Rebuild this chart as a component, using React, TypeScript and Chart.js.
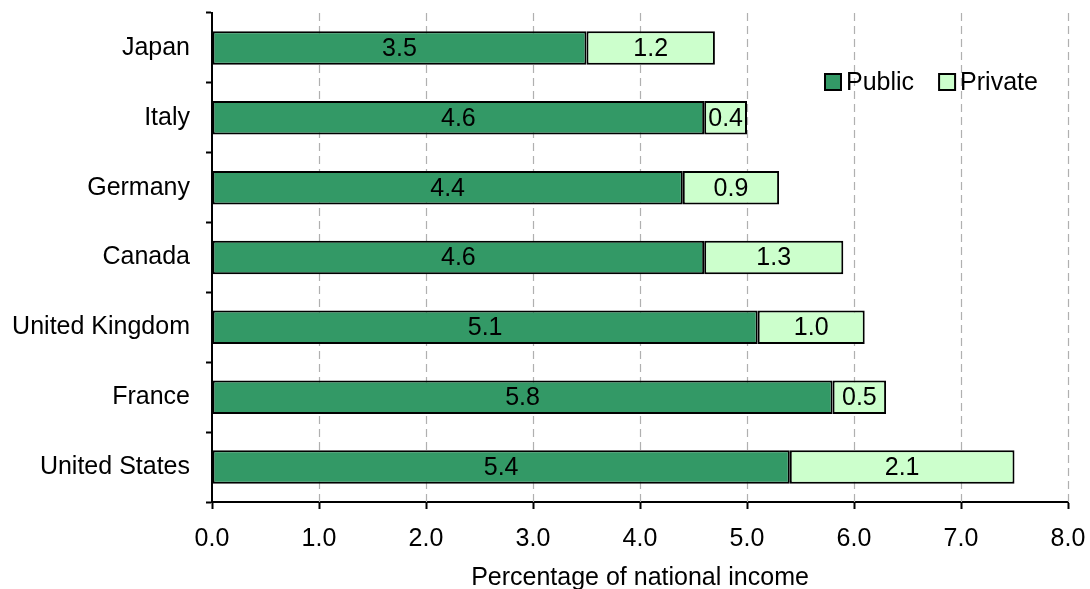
import React, { useEffect, useRef } from "react";
import { Chart, registerables } from "chart.js";

Chart.register(...registerables);

// Spending on education by source, % of national income
const CATEGORIES = ["Japan", "Italy", "Germany", "Canada", "United Kingdom", "France", "United States"];
const PUBLIC = [3.5, 4.6, 4.4, 4.6, 5.1, 5.8, 5.4];
const PRIVATE = [1.2, 0.4, 0.9, 1.3, 1.0, 0.5, 2.1];
const X_MIN = 0;
const X_MAX = 8;
const X_STEP = 1;

const FONT_FAMILY = "'Liberation Sans', Arial, Helvetica, sans-serif";
const FONT_SIZE = 25;
const PUBLIC_COLOR = "#339966";
const PRIVATE_COLOR = "#CCFFCC";

// Dashed vertical guides at each x tick (except the axis itself)
const dashedGrid = {
  id: "dashedGrid",
  beforeDatasetsDraw(chart: any) {
    const { ctx, chartArea, scales } = chart;
    const xs = scales.x;
    ctx.save();
    ctx.strokeStyle = "#b0b0b0";
    ctx.lineWidth = 1.2;
    ctx.setLineDash([8, 5]);
    xs.ticks.forEach((t: any) => {
      if (t.value === X_MIN) return;
      const x = Math.round(xs.getPixelForValue(t.value)) + 0.5;
      ctx.beginPath();
      ctx.moveTo(x, chartArea.top);
      ctx.lineTo(x, chartArea.bottom);
      ctx.stroke();
    });
    ctx.restore();
  },
};

// Value printed in the middle of every bar segment
const segmentLabels = {
  id: "segmentLabels",
  afterDatasetsDraw(chart: any) {
    const { ctx } = chart;
    ctx.save();
    ctx.font = `${FONT_SIZE}px ${FONT_FAMILY}`;
    ctx.fillStyle = "#000";
    ctx.textAlign = "center";
    ctx.textBaseline = "middle";
    chart.data.datasets.forEach((ds: any, di: number) => {
      const meta = chart.getDatasetMeta(di);
      meta.data.forEach((bar: any, i: number) => {
        const v = ds.data[i];
        const cx = (bar.x + bar.base) / 2;
        ctx.fillText(Number(v).toFixed(1), cx, bar.y + 1);
      });
    });
    ctx.restore();
  },
};

// Legend drawn inside the plot, top right
const insideLegend = {
  id: "insideLegend",
  afterDraw(chart: any) {
    const { ctx } = chart;
    const items = chart.data.datasets.map((ds: any) => ({ label: ds.label, color: ds.backgroundColor }));
    const box = 16;
    const y = 82;
    let x = 825;
    ctx.save();
    ctx.font = `${FONT_SIZE}px ${FONT_FAMILY}`;
    ctx.textBaseline = "middle";
    ctx.textAlign = "left";
    items.forEach((it: any) => {
      ctx.fillStyle = it.color;
      ctx.fillRect(x, y - box / 2, box, box);
      ctx.strokeStyle = "#000";
      ctx.lineWidth = 2;
      ctx.strokeRect(x, y - box / 2, box, box);
      ctx.fillStyle = "#000";
      ctx.fillText(it.label, x + box + 5, y + 1);
      x += box + 5 + ctx.measureText(it.label).width + 25;
    });
    ctx.restore();
  },
};

export default function App() {
  const canvasRef = useRef<HTMLCanvasElement | null>(null);

  useEffect(() => {
    if (!canvasRef.current) return;
    const chart = new Chart(canvasRef.current, {
      type: "bar",
      data: {
        labels: CATEGORIES,
        datasets: [
          {
            label: "Public",
            data: PUBLIC,
            backgroundColor: PUBLIC_COLOR,
            borderColor: "#000",
            borderWidth: 2,
            borderSkipped: false,
            barPercentage: 0.48,
            categoryPercentage: 1,
          },
          {
            label: "Private",
            data: PRIVATE,
            backgroundColor: PRIVATE_COLOR,
            borderColor: "#000",
            borderWidth: 2,
            borderSkipped: false,
            barPercentage: 0.48,
            categoryPercentage: 1,
          },
        ],
      },
      options: {
        indexAxis: "y",
        animation: false,
        responsive: true,
        maintainAspectRatio: false,
        layout: { padding: { top: 13, right: 22, left: 0, bottom: 0 } },
        plugins: {
          legend: { display: false },
          tooltip: { enabled: false },
        },
        scales: {
          x: {
            type: "linear",
            stacked: true,
            min: X_MIN,
            max: X_MAX,
            afterFit(scale: any) {
              scale.height = 87;
              scale.paddingLeft = 0;
              scale.paddingRight = 0;
            },
            ticks: {
              stepSize: X_STEP,
              callback: (v: any) => Number(v).toFixed(1),
              color: "#000",
              font: { family: FONT_FAMILY, size: FONT_SIZE },
              padding: 15,
              maxRotation: 0,
            },
            grid: {
              drawOnChartArea: false,
              tickLength: 7,
              tickColor: "#000",
              tickWidth: 2,
            },
            border: { color: "#000", width: 2 },
            title: {
              display: true,
              text: "Percentage of national income",
              color: "#000",
              font: { family: FONT_FAMILY, size: FONT_SIZE },
              padding: { top: 0, bottom: -4 },
            },
          },
          y: {
            type: "category",
            stacked: true,
            afterFit(scale: any) {
              scale.width = 212;
              scale.paddingTop = 0;
              scale.paddingBottom = 0;
            },
            ticks: {
              color: "#000",
              font: { family: FONT_FAMILY, size: FONT_SIZE },
              padding: 16,
            },
            grid: {
              offset: true,
              drawOnChartArea: false,
              tickLength: 6,
              tickColor: "#000",
              tickWidth: 2,
            },
            border: { color: "#000", width: 2 },
          },
        },
      },
      plugins: [dashedGrid, segmentLabels, insideLegend],
    });
    return () => chart.destroy();
  }, []);

  return (
    <div style={{ position: "fixed", left: 0, top: 0, width: 1090, height: 589, background: "#fff" }}>
      <canvas ref={canvasRef} />
    </div>
  );
}
